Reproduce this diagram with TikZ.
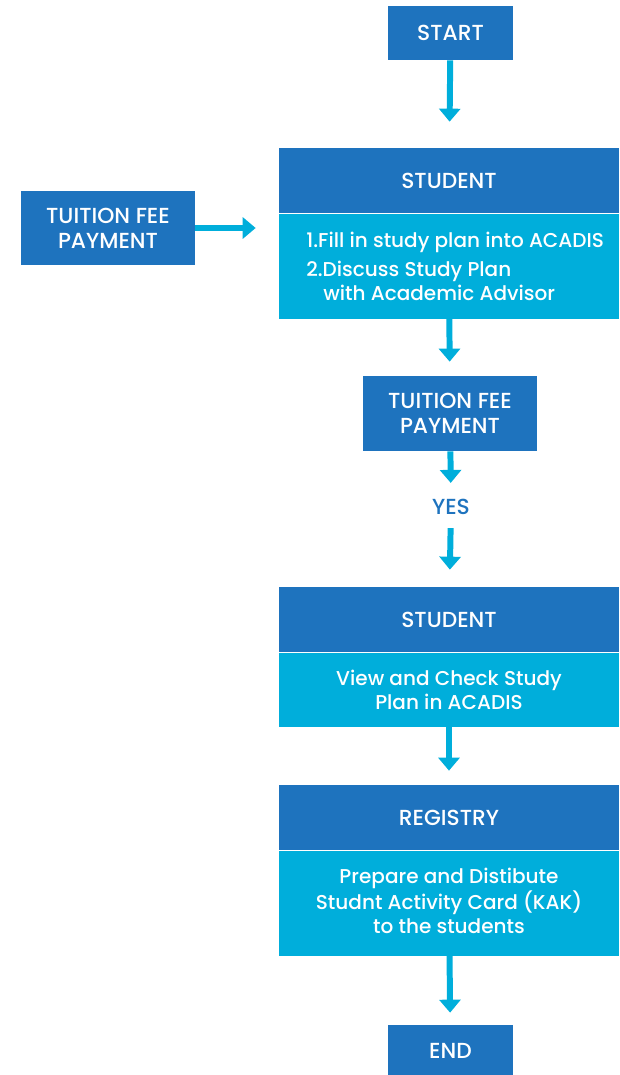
\documentclass[tikz,border=0pt]{standalone}
\usepackage{fontspec}
\setmainfont{Poppins}[UprightFont=* Medium]
\usetikzlibrary{arrows.meta,positioning}
\definecolor{headblue}{RGB}{30,115,190}
\definecolor{bodycyan}{RGB}{0,174,219}

\begin{document}
\begin{tikzpicture}[x=0.02cm,y=-0.02cm,
	box/.style={inner sep=0pt,text=white,font=\fontsize{11.4}{13.6}\selectfont},
	capbox/.style={box,font=\fontsize{12.4}{14.4}\selectfont},
	headbox/.style={capbox,fill=headblue,minimum width=6.8cm,minimum height=1.3cm},
	bodybox/.style={box,fill=bodycyan,minimum width=6.8cm},
	termbox/.style={capbox,fill=headblue,minimum width=2.5cm},
	paybox/.style={capbox,fill=headblue,align=center,minimum width=3.48cm,minimum height=1.5cm},
	flow/.style={draw=bodycyan,line width=3.4pt,-{Triangle[width=0.42cm,length=0.26cm]}}]
	\useasboundingbox (0,0) rectangle (619,1075);
	% terminals and boxes
	\node[termbox,minimum height=1.08cm] (start) at (450.5,33) {START};
	\node[headbox] (stud1) at (449,180.5) {STUDENT};
	\node[bodybox,minimum height=2.1cm,below=0pt of stud1] (plan) {};
	\node[box,align=left,anchor=north west] (plantxt) at (306,232)
		{1.Fill in study plan into ACADIS\\[3pt]2.Discuss Study Plan\\\hspace*{0.34cm}with Academic Advisor};
	\node[paybox] (pay1) at (108,228) {TUITION FEE\\PAYMENT};
	\node[paybox] (pay2) at (450,413.5) {TUITION FEE\\PAYMENT};
	\node[capbox,text=headblue] (yes) at (451,507) {YES};
	\node[headbox] (stud2) at (449,619.5) {STUDENT};
	\node[bodybox,minimum height=1.48cm,align=center,below=0pt of stud2] (check)
		{View and Check Study\\ Plan in ACADIS};
	\node[headbox] (reg) at (449,817.5) {REGISTRY};
	\node[bodybox,minimum height=2.1cm,align=center,below=0pt of reg] (card)
		{Prepare and Distibute\\Studnt Activity Card (KAK)\\to the students\\[-11pt]};
	\node[termbox,minimum height=1.04cm] (end) at (450.5,1051) {END};
	% arrows
	\draw[flow,shorten >=0.52cm] (start) -- (stud1);
	\draw[flow,shorten >=0.46cm] (pay1.east) -- (pay1.east -| plan.west);
	\draw[flow,shorten >=0.28cm] (plan) -- (pay2);
	\draw[flow,shorten >=0.32cm] (pay2) -- (yes);
	\draw[flow,shorten <=0.26cm,shorten >=0.34cm] (yes) -- (stud2);
	\draw[flow,shorten >=0.28cm] (check) -- (reg);
	\draw[flow,shorten >=0.24cm] (card) -- (end);
\end{tikzpicture}
\end{document}
